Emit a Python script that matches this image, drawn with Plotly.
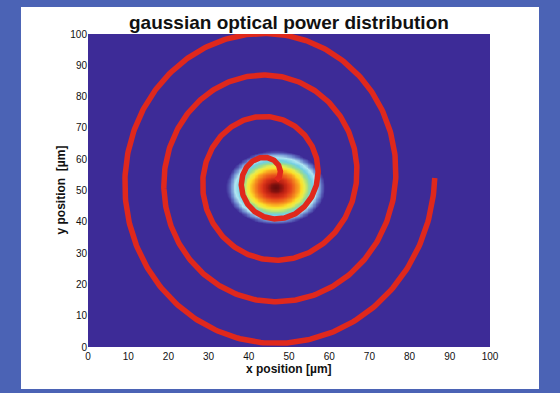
import numpy as np
import plotly.graph_objects as go

# ---- data ----
x_tick_vals = [0, 10, 20, 30, 40, 50, 60, 70, 80, 90, 100]
y_tick_vals = [0, 10, 20, 30, 40, 50, 60, 70, 80, 90, 100]
x_tick_text = [str(v) for v in x_tick_vals]
y_tick_text = [str(v) for v in y_tick_vals]

# gaussian beam (peak position and widths in µm)
beam_center_x = 46.6
beam_center_y = 51.0
beam_sigma_x = 5.2
beam_sigma_y = 5.0
beam_peak = 1.0

# spiral scan path (Archimedean spiral)
spiral_center_x = 45.3
spiral_center_y = 54.0
spiral_start_radius = 2.15
spiral_pitch = 9.7          # µm per turn (in x)
spiral_y_stretch = 1.37
spiral_turns = 4
spiral_start_angle = -0.35

grid_x = np.linspace(0, 100, 251)
grid_y = np.linspace(0, 100, 251)

# ---- build figure ----
GX, GY = np.meshgrid(grid_x, grid_y)
power = beam_peak * np.exp(-((GX - beam_center_x) ** 2) / (2 * beam_sigma_x ** 2)
                           - ((GY - beam_center_y) ** 2) / (2 * beam_sigma_y ** 2))

theta = np.linspace(spiral_start_angle, 2 * np.pi * spiral_turns, 1500)
radius = spiral_start_radius + spiral_pitch / (2 * np.pi) * theta
sx = spiral_center_x + radius * np.cos(theta)
sy = spiral_center_y + spiral_y_stretch * radius * np.sin(theta)

colorscale = [
    [0.00, '#3d2b97'],
    [0.06, '#3d2b97'],
    [0.10, '#6a84cc'],
    [0.15, '#b0e6f2'],
    [0.22, '#72cfe2'],
    [0.30, '#98dc90'],
    [0.38, '#e6ec50'],
    [0.46, '#fbe02a'],
    [0.56, '#f8a020'],
    [0.68, '#ee6a1c'],
    [0.80, '#e03a1a'],
    [0.92, '#b81e12'],
    [1.00, '#6a0c0c'],
]

fig = go.Figure()
fig.add_trace(go.Heatmap(
    x=grid_x, y=grid_y, z=power, zmin=0, zmax=1,
    colorscale=colorscale, showscale=False, zsmooth='best', hoverinfo='skip'))
fig.add_trace(go.Scatter(
    x=sx, y=sy, mode='lines', line=dict(color='#e0281c', width=5.5),
    hoverinfo='skip', showlegend=False))

fig.update_layout(
    width=560, height=393,
    margin=dict(l=88, r=70, t=34, b=46),
    paper_bgcolor='#4b63b5',
    plot_bgcolor='#3d2b97',
    showlegend=False,
    font=dict(family='Liberation Sans, Arial, sans-serif', color='#111111'),
    shapes=[dict(type='rect', xref='paper', yref='paper',
                 x0=-0.1667, x1=1.1219, y0=-0.1342, y1=1.0863,
                 fillcolor='white', line=dict(width=0), layer='below')],
    annotations=[
        dict(text='<b>gaussian optical power distribution</b>', xref='paper', yref='paper',
             x=0.5, y=1.0, yshift=12, xanchor='center', yanchor='middle', showarrow=False,
             font=dict(size=19, color='#111111')),
        dict(text='<b>x position [µm]</b>', xref='paper', yref='paper',
             x=0.5, y=0, yshift=-21.5, xanchor='center', yanchor='middle', showarrow=False,
             font=dict(size=12, color='#111111')),
        dict(text='<b>y position  [µm]</b>', xref='paper', yref='paper',
             x=0, y=0.5, xshift=-28, xanchor='center', yanchor='middle', showarrow=False,
             textangle=-90, font=dict(size=12, color='#111111')),
    ],
)
fig.update_xaxes(range=[0, 100], tickvals=x_tick_vals, ticktext=x_tick_text,
                 showgrid=False, zeroline=False, ticks='', ticklen=0, ticklabelstandoff=2,
                 tickfont=dict(size=10, color='#111111'), showline=False)
fig.update_yaxes(range=[0, 100], tickvals=y_tick_vals, ticktext=y_tick_text,
                 showgrid=False, zeroline=False, ticks='', ticklen=0,
                 tickfont=dict(size=10, color='#111111'), showline=False)

fig.write_html("out.html", config={'displayModeBar': False},
               post_script="document.body.style.margin='0';document.body.style.overflow='hidden';")
